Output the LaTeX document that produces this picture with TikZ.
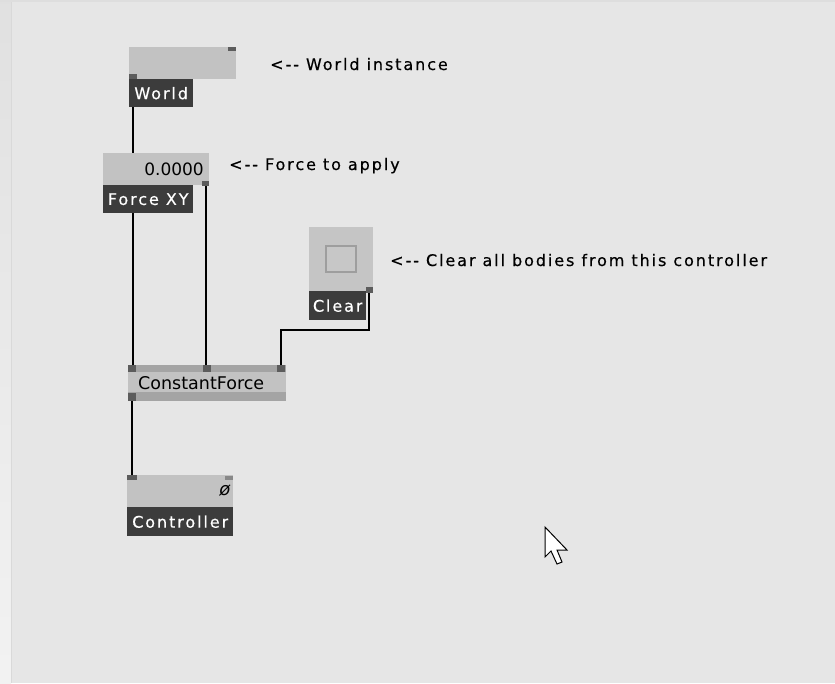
\documentclass[tikz,border=0pt]{standalone}
\usepackage{fontspec}
\setmainfont{DejaVu Sans}
\newfontfamily\uifont{DejaVu Sans}
\newfontfamily\pixfont[LetterSpace=12, FakeBold=0.4]{DejaVu Sans}
\definecolor{canvas}{HTML}{E6E6E6}
\definecolor{boxgray}{HTML}{C2C2C2}
\definecolor{stripgray}{HTML}{A4A4A4}
\definecolor{labeldark}{HTML}{3C3C3C}
\definecolor{portdark}{HTML}{5C5C5C}
\definecolor{portlight}{HTML}{888888}
\pgfdeclarelayer{bg}
\pgfdeclarelayer{wires}
\pgfsetlayers{bg,wires,main}
\tikzset{
  body/.style={fill=boxgray, draw=none, inner sep=0pt, anchor=north west},
  tag/.style={fill=labeldark, draw=none, text=white, inner sep=0pt, anchor=north west,
    font=\pixfont\fontsize{16}{18}\selectfont},
  port/.style={fill=portdark, draw=none, inner sep=0pt, minimum width=8pt, minimum height=6pt},
  note/.style={anchor=base west, inner sep=0pt, text=black, font=\pixfont\fontsize{16}{18}\selectfont},
  wire/.style={line width=1.8pt, black},
}
\begin{document}
\begin{tikzpicture}[x=1pt, y=-1pt]
  \useasboundingbox (0,0) rectangle (835,683);
  \begin{pgfonlayer}{bg}
    \fill[canvas] (0,0) rectangle (835,683);
    \shade[top color=black!12, bottom color=black!5] (0,0) rectangle (11,683);
    \draw[black!15, line width=0.8pt] (11,0) -- (11,683);
    \fill[black!13] (0,0) rectangle (835,2);
  \end{pgfonlayer}

  % World node
  \node[body, minimum width=107pt, minimum height=32pt] (world) at (129,47) {};
  \node[tag, minimum width=64pt, minimum height=28pt] (worldtag) at (129,79) {World};
  \node[port, anchor=north east, minimum height=4pt] (worldin) at (world.north east) {};
  \node[port, anchor=south west, minimum height=5pt] (worldout) at (world.south west) {};

  % Force XY node
  \node[body, minimum width=106pt, minimum height=32pt] (force) at (103,153) {};
  \node[anchor=east, inner sep=0pt, font=\uifont\fontsize{17}{19}\selectfont]
    (forceval) at (204,169) {0.0000};
  \node[tag, minimum width=90pt, minimum height=28pt] (forcetag) at (103,185) {Force XY};
  \node[port, anchor=north east, minimum width=7pt, minimum height=5pt] (forceout) at (209,181) {};

  % Clear toggle
  \node[body, fill=boxgray!95!white, minimum width=64pt, minimum height=64pt] (clear) at (309,227) {};
  \node[draw=black!38, line width=1.6pt, fill=boxgray!92!white, inner sep=0pt,
    minimum width=30pt, minimum height=26pt] (clearsq) at (clear.center) {};
  \node[tag, minimum width=57pt, minimum height=29pt] (cleartag) at (309,291) {Clear};
  \node[port, anchor=north east, minimum width=7pt, minimum height=6pt] (clearout) at (373,287) {};

  % ConstantForce node
  \node[body, minimum width=158pt, minimum height=36pt] (cf) at (128,365) {};
  \fill[stripgray] (cf.north west) rectangle ([yshift=-7pt]cf.north east);
  \fill[stripgray] ([yshift=9pt]cf.south west) rectangle (cf.south east);
  \node[anchor=west, inner sep=0pt, font=\uifont\fontsize{17.5}{19}\selectfont]
    (cfname) at (138,383) {ConstantForce};
  \node[port, anchor=north west, minimum height=7pt] (cfinA) at (128,365) {};
  \node[port, anchor=north west, minimum height=7pt] (cfinB) at (203,365) {};
  \node[port, anchor=north west, minimum height=7pt] (cfinC) at (277,365) {};
  \node[port, anchor=south west, minimum height=8pt] (cfout) at (cf.south west) {};

  % Controller node
  \node[body, minimum width=106pt, minimum height=32pt] (ctrl) at (127,475) {};
  \node[port, anchor=north west, minimum width=10pt, minimum height=5pt] (ctrlin) at (127,475) {};
  \node[port, fill=portlight, anchor=north east, minimum height=4pt] (ctrlout) at (233,476) {};
  \node[anchor=center, inner sep=0pt, font=\uifont\fontsize{18}{20}\selectfont\itshape]
    (ctrlsym) at (225,491) {ø};
  \node[tag, minimum width=106pt, minimum height=29pt] (ctrltag) at (127,507) {Controller};

  % Annotations
  \node[note] (noteworld) at (270,70) {<-- World instance};
  \node[note] (noteforce) at (229,170) {<-- Force to apply};
  \node[note] (noteclear) at (390,266) {<-- Clear all bodies from this controller};

  % Connections
  \coordinate (clearbend) at (370,330);
  \begin{pgfonlayer}{wires}
    \draw[wire] (worldout.south) -- (worldout.south |- cfinA.north);
    \draw[wire] ([xshift=1pt]forceout.south) -- ([xshift=1pt]forceout.south |- cfinB.north);
    \draw[wire] (clearout.south) -- (clearout.south |- clearbend) -| (cfinC.north);
    \draw[wire] (cfout.south) -- (cfout.south |- ctrlin.north);
  \end{pgfonlayer}

  % Mouse pointer
  \draw[black, fill=white, line width=1pt, line join=miter]
    (545,527) -- (545,557) -- (551,551) -- (557,564) -- (562,562) -- (557,550)
    -- (567,550) -- cycle;
\end{tikzpicture}
\end{document}
